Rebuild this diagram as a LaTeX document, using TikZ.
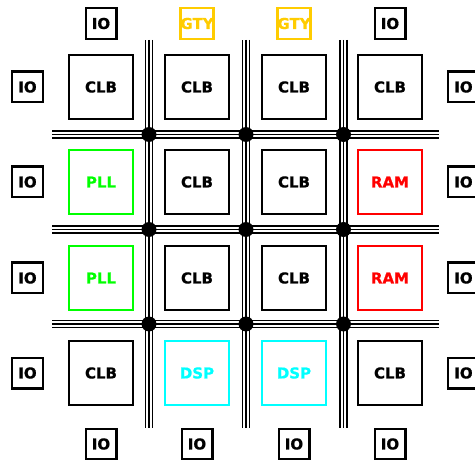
\documentclass[tikz,border=0pt]{standalone}
\usepackage{fontspec}
\setmainfont{DejaVu Sans}
\newfontfamily\lblfont[FakeBold=0.8]{DejaVu Sans Bold}
\definecolor{gtycol}{RGB}{255,204,0}
\definecolor{pllcol}{RGB}{0,255,0}
\definecolor{ramcol}{RGB}{255,0,0}
\definecolor{dspcol}{RGB}{0,255,255}
\begin{document}
\begin{tikzpicture}[x=1pt,y=-1pt,
  lbl/.style={font=\lblfont\fontsize{15}{15}\selectfont},
  blk/.style={draw,line width=2.4pt,minimum size=63.6pt,inner sep=0pt,lbl},
  iob/.style={draw,line width=2.4pt,minimum size=30.6pt,inner sep=0pt,lbl},
  colblk/.style={blk,draw=#1,text=#1},
  chouter/.style={line width=8.8pt,black},
  chwhite/.style={line width=5.8pt,white},
  chinner/.style={line width=1.4pt,black},
  junc/.style={circle,fill=black,minimum size=15pt,inner sep=0pt}]
\useasboundingbox (0,0) rectangle (475,460);
% channels
\foreach \s in {chouter,chwhite,chinner}{
  \foreach \x in {149,246,343.5}{
    \draw[\s] (\x,40) -- (\x,428);
  }
  \foreach \y in {134.5,229.5,324}{
    \draw[\s] (52,\y) -- (439,\y);
  }
}
% junctions
\foreach \x [count=\i] in {149,246,343.5}{
  \foreach \y [count=\j] in {134.5,229.5,324}{
    \node[junc] (j\i\j) at (\x,\y) {};
  }
}
% blocks row 1
\node[blk] (b11) at (101,87) {CLB};
\node[blk] (b12) at (197,87) {CLB};
\node[blk] (b13) at (294,87) {CLB};
\node[blk] (b14) at (390,87) {CLB};
% row 2
\node[colblk=pllcol] (b21) at (101,182) {PLL};
\node[blk] (b22) at (197,182) {CLB};
\node[blk] (b23) at (294,182) {CLB};
\node[colblk=ramcol] (b24) at (390,182) {RAM};
% row 3
\node[colblk=pllcol] (b31) at (101,278) {PLL};
\node[blk] (b32) at (197,278) {CLB};
\node[blk] (b33) at (294,278) {CLB};
\node[colblk=ramcol] (b34) at (390,278) {RAM};
% row 4
\node[blk] (b41) at (101,373) {CLB};
\node[colblk=dspcol] (b42) at (197,373) {DSP};
\node[colblk=dspcol] (b43) at (294,373) {DSP};
\node[blk] (b44) at (390,373) {CLB};
% top IO
\node[iob] (t1) at (101,23.5) {IO};
\node[iob,draw=gtycol,text=gtycol] (t2) at (197,23.5) {GTY};
\node[iob,draw=gtycol,text=gtycol] (t3) at (294,23.5) {GTY};
\node[iob] (t4) at (390,23.5) {IO};
% bottom IO
\node[iob] (u1) at (101,444) {IO};
\node[iob] (u2) at (197,444) {IO};
\node[iob] (u3) at (294,444) {IO};
\node[iob] (u4) at (390,444) {IO};
% left IO
\node[iob] (l1) at (27.5,87) {IO};
\node[iob] (l2) at (27.5,182) {IO};
\node[iob] (l3) at (27.5,278) {IO};
\node[iob] (l4) at (27.5,373) {IO};
% right IO
\node[iob] (r1) at (463.5,87) {IO};
\node[iob] (r2) at (463.5,182) {IO};
\node[iob] (r3) at (463.5,278) {IO};
\node[iob] (r4) at (463.5,373) {IO};
\end{tikzpicture}
\end{document}
